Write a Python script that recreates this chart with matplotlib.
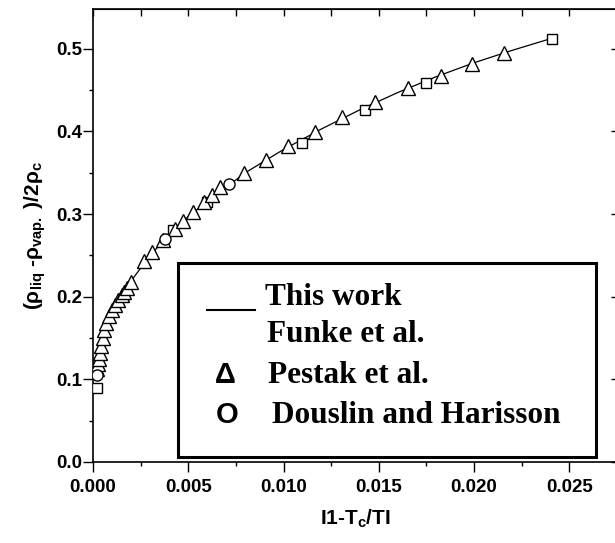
import matplotlib
matplotlib.use('Agg')
import matplotlib.pyplot as plt
from matplotlib.patches import Rectangle
from matplotlib.ticker import MultipleLocator

# ---- data ----
# "This work" curve
work_x = [0.00015, 0.0003, 0.0006, 0.0010, 0.0015, 0.0020, 0.0030, 0.0040, 0.0050,
          0.0060, 0.0080, 0.0100, 0.0120, 0.0140, 0.0160, 0.0180, 0.0200, 0.0220, 0.0240]
work_y = [0.105, 0.130, 0.163, 0.185, 0.202, 0.219, 0.250, 0.275, 0.297,
          0.315, 0.350, 0.378, 0.403, 0.426, 0.447, 0.466, 0.483, 0.498, 0.512]

# Funke et al. (squares)
funke_x = [0.0002, 0.0042, 0.0060, 0.01095, 0.01427, 0.01747, 0.02408]
funke_y = [0.0895, 0.2805, 0.3148, 0.386, 0.4256, 0.4587, 0.5115]

# Pestak et al. (triangles)
pestak_x = [0.00020, 0.00025, 0.00030, 0.00035, 0.00040, 0.00050, 0.00060, 0.00070,
            0.00085, 0.00100, 0.00115, 0.00130, 0.00150, 0.00165, 0.00180, 0.00200,
            0.00270, 0.00310, 0.00370, 0.00430, 0.00470, 0.00525, 0.00580, 0.00625,
            0.00665, 0.00795, 0.00910, 0.01025, 0.01165, 0.01305, 0.01480, 0.01655,
            0.01825, 0.01990, 0.02155]
pestak_y = [0.112, 0.118, 0.125, 0.132, 0.140, 0.150, 0.160, 0.168,
            0.177, 0.184, 0.190, 0.196, 0.202, 0.206, 0.211, 0.218,
            0.243, 0.254, 0.268, 0.282, 0.291, 0.302, 0.315, 0.323,
            0.333, 0.350, 0.365, 0.3825, 0.399, 0.417, 0.436, 0.453,
            0.467, 0.482, 0.495]

# Douslin and Harisson (circles)
douslin_x = [0.0002, 0.00378, 0.00715]
douslin_y = [0.105, 0.2693, 0.3358]

x_ticks = [0.000, 0.005, 0.010, 0.015, 0.020, 0.025]
x_ticklabels = ['0.000', '0.005', '0.010', '0.015', '0.020', '0.025']
y_ticks = [0.0, 0.1, 0.2, 0.3, 0.4, 0.5]
y_ticklabels = ['0.0', '0.1', '0.2', '0.3', '0.4', '0.5']

plt.rcParams['font.family'] = ['Liberation Sans', 'DejaVu Sans']
plt.rcParams['font.weight'] = 'bold'
plt.rcParams['mathtext.fontset'] = 'custom'
plt.rcParams['mathtext.rm'] = 'Liberation Sans:bold'
plt.rcParams['mathtext.it'] = 'Liberation Sans:bold'
plt.rcParams['mathtext.bf'] = 'Liberation Sans:bold'

fig = plt.figure(figsize=(6.15, 5.43), dpi=100)
ax = fig.add_axes([0.1512, 0.1492, 0.8520, 0.8342])

ax.plot(work_x, work_y, color='black', lw=0.9, zorder=2)
ax.plot(funke_x, funke_y, 's', ms=7.5, mfc='white', mec='black', mew=1.0, zorder=3)
ax.plot(pestak_x, pestak_y, '^', ms=10.5, mfc='white', mec='black', mew=1.0, zorder=3)
ax.plot(douslin_x, douslin_y, 'o', ms=8, mfc='white', mec='black', mew=1.0, zorder=4)

ax.set_xlim(0, 0.0275)
ax.set_ylim(0, 0.548)

ax.set_xticks(x_ticks)
ax.set_xticklabels(x_ticklabels)
ax.set_yticks(y_ticks)
ax.set_yticklabels(y_ticklabels)
ax.xaxis.set_minor_locator(MultipleLocator(0.0025))
ax.yaxis.set_minor_locator(MultipleLocator(0.05))
ax.tick_params(axis='both', which='major', direction='out', length=7, width=1,
               labelsize=13.5, top=False, right=False)
ax.tick_params(axis='both', which='minor', direction='out', length=3, width=1,
               top=False, right=False)
ax.tick_params(axis='x', which='major', pad=5)
ax.tick_params(axis='y', which='major', pad=1)
for lab in ax.get_xticklabels() + ax.get_yticklabels():
    lab.set_fontweight('bold')

# inward ticks on top and right
top = ax.secondary_xaxis('top')
top.set_xticks([0.0025 * i for i in range(12)])
top.tick_params(direction='in', length=5, width=1, labeltop=False)
right = ax.secondary_yaxis('right')
right.set_yticks(y_ticks)
right.tick_params(direction='in', length=4, width=1, labelright=False)

for sp in ax.spines.values():
    sp.set_linewidth(1.2)

ax.set_xlabel('I1-T$_c$/TI', fontsize=15, fontweight='bold', labelpad=9)
ax.set_ylabel('(ρ$_{liq}$ -ρ$_{vap.}$ )/2ρ$_c$', fontsize=15, fontweight='bold', labelpad=6)

# legend box drawn as text
ax.add_patch(Rectangle((0.162, 0.011), 0.798, 0.428, transform=ax.transAxes,
                       fill=False, lw=2.2, ec='black', zorder=5))
serif = dict(family=['Liberation Serif', 'DejaVu Serif'], fontweight='bold', fontsize=22.5)
ax.plot([0.2176, 0.309], [0.3355, 0.3355], transform=ax.transAxes, color='black', lw=1.5)
ax.text(0.328, 0.3466, 'This work', transform=ax.transAxes, va='baseline', **serif)
ax.text(0.332, 0.264, 'Funke et al.', transform=ax.transAxes, va='baseline', **serif)
ax.text(0.253, 0.175, 'Δ', transform=ax.transAxes, va='baseline', ha='center',
        fontsize=21, fontweight='bold')
ax.text(0.334, 0.175, 'Pestak et al.', transform=ax.transAxes, va='baseline', **serif)
ax.text(0.256, 0.0868, 'O', transform=ax.transAxes, va='baseline', ha='center',
        fontsize=21, fontweight='bold')
ax.text(0.3416, 0.0868, 'Douslin and Harisson', transform=ax.transAxes, va='baseline', **serif)

fig.savefig('out.png', dpi=100)
